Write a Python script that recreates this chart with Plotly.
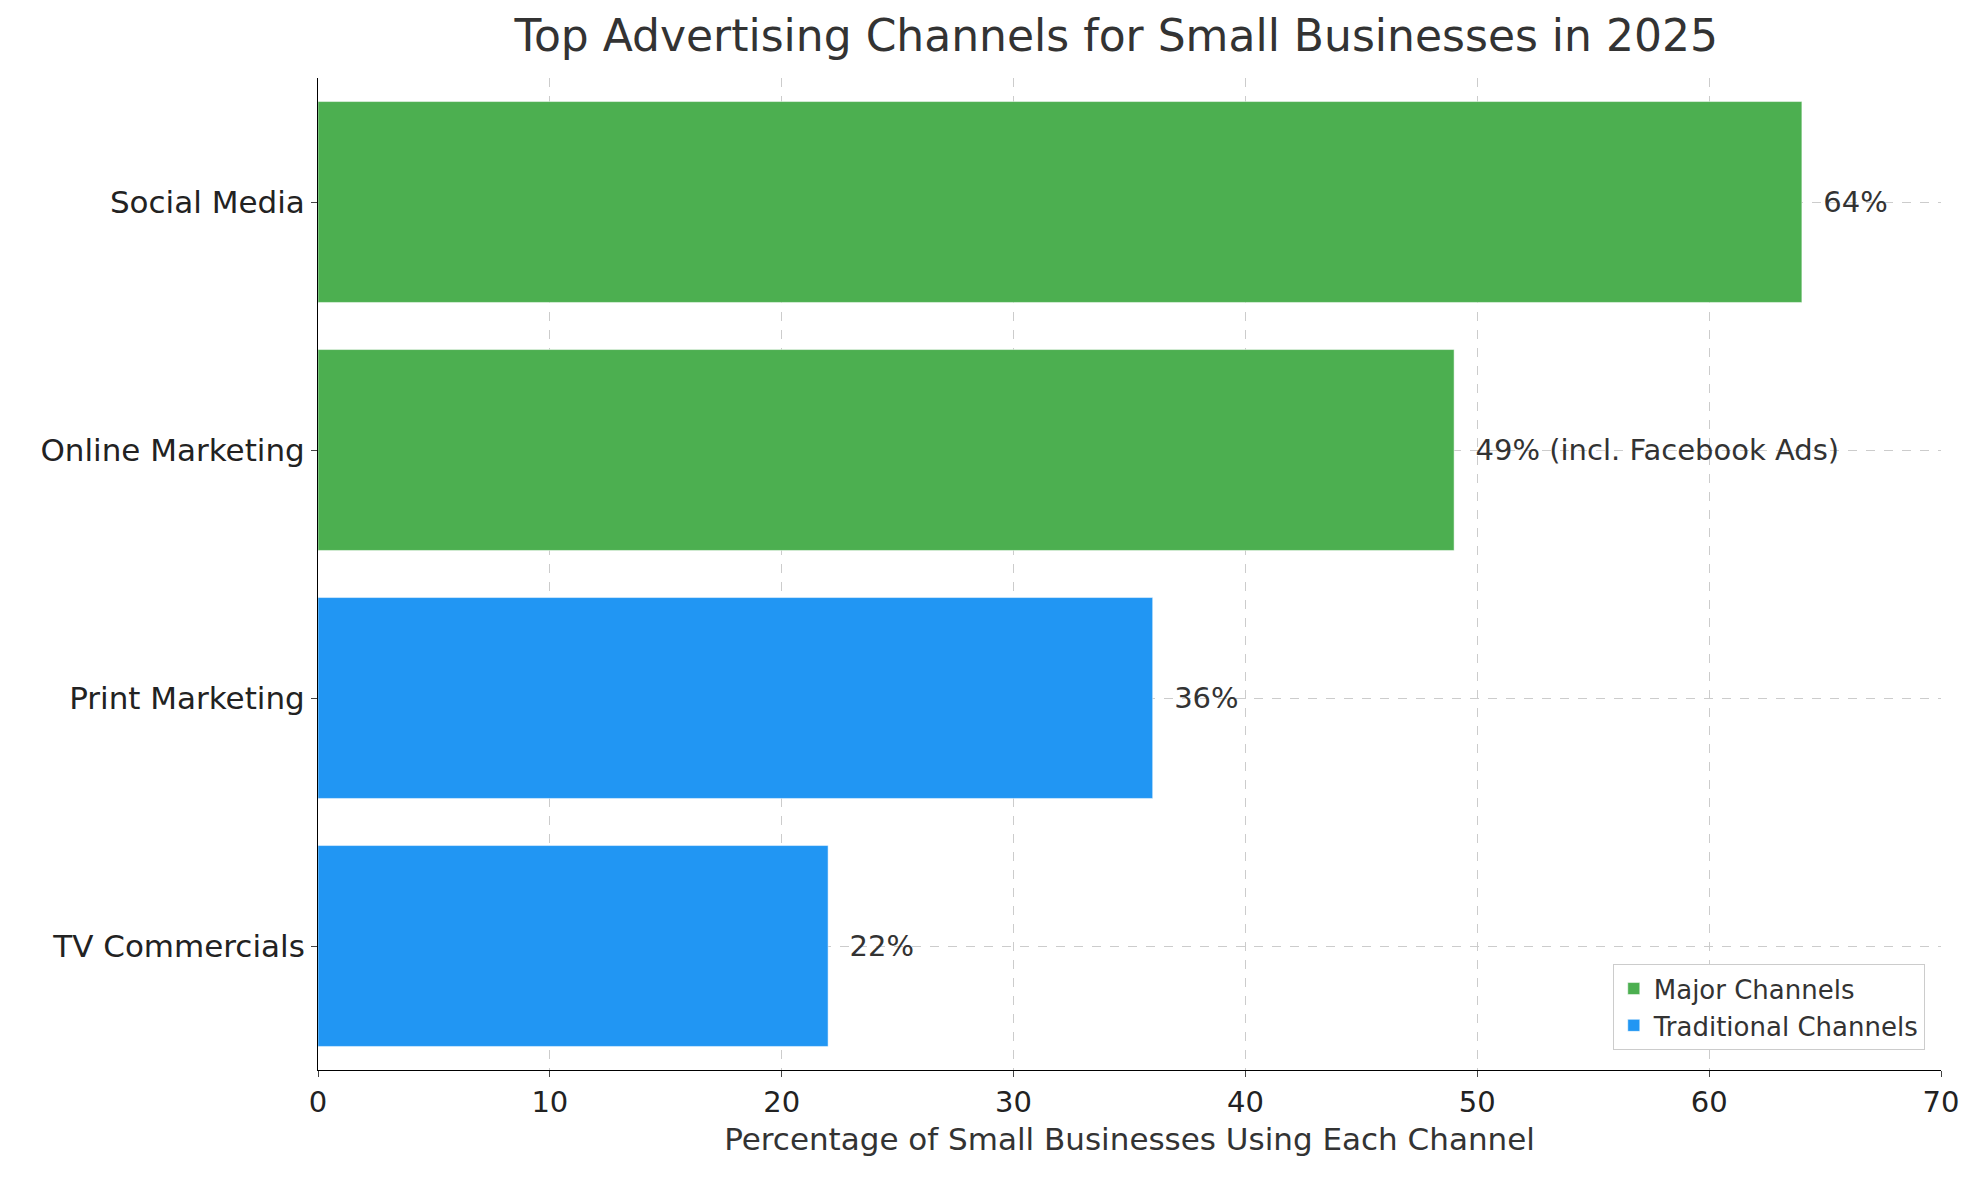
import plotly.graph_objects as go

channels = ["TV Commercials", "Print Marketing", "Online Marketing", "Social Media"]
values = [22, 36, 49, 64]
labels = ["22%", "36%", "49% (incl. Facebook Ads)", "64%"]
groups = ["Traditional", "Traditional", "Major", "Major"]

fig = go.Figure()

for grp, name, color in [("Major", "Major Channels", "#4CAF50"),
                         ("Traditional", "Traditional Channels", "#2196F3")]:
    idx = [i for i, g in enumerate(groups) if g == grp]
    fig.add_trace(go.Bar(
        y=[channels[i] for i in idx],
        x=[values[i] for i in idx],
        text=["  " + labels[i] for i in idx],
        textposition="outside",
        textfont=dict(size=29, color="#333333"),
        cliponaxis=False,
        orientation="h",
        width=0.81,
        marker_color=color,
        name=name,
    ))

fig.update_layout(
    width=1979, height=1180,
    template="plotly_white",
    font=dict(family="DejaVu Sans", size=28, color="#222222"),
    title=dict(text="Top Advertising Channels for Small Businesses in 2025",
               x=0.56, xanchor="center", y=0.99, yanchor="top",
               font=dict(size=44, color="#333333")),
    margin=dict(l=310, r=46, t=70, b=118),
    legend=dict(x=0.99, y=0.02, xanchor="right", yanchor="bottom",
                bordercolor="#cccccc", borderwidth=1, bgcolor="white",
                font=dict(size=26, color="#333333"), traceorder="normal"),
    plot_bgcolor="white",
)
fig.update_xaxes(range=[0, 70], dtick=10, showline=True, linecolor="black",
                 ticks="outside", ticklen=6, gridcolor="#cccccc", griddash="dash",
                 zeroline=False, tickfont=dict(size=29),
                 title=dict(text="Percentage of Small Businesses Using Each Channel",
                            font=dict(size=31, color="#333333"), standoff=10))
fig.update_yaxes(categoryorder="array", categoryarray=channels, showline=True,
                 linecolor="black", ticks="outside", ticklen=6,
                 gridcolor="#cccccc", griddash="dash", tickfont=dict(size=31))

fig.write_html("out.html")
